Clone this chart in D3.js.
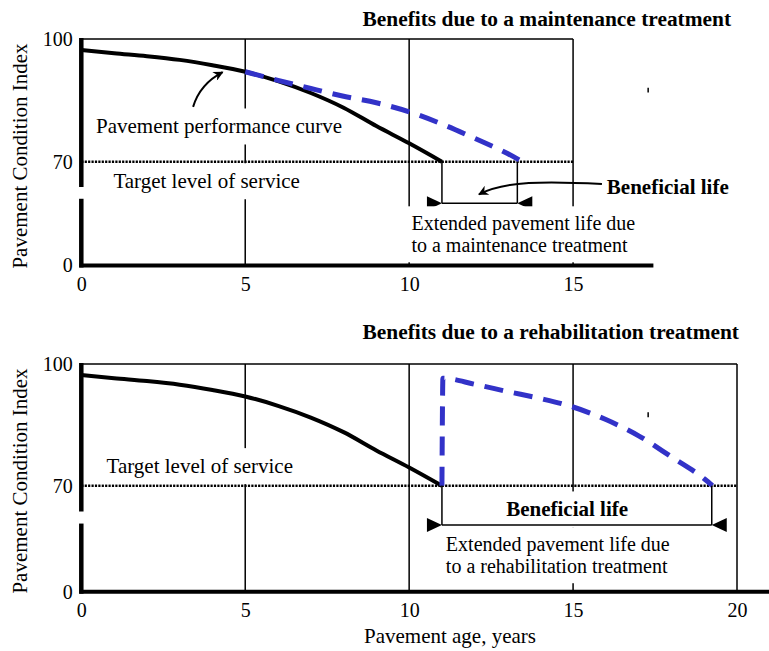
<!DOCTYPE html>
<html>
<head>
  <meta charset="utf-8"/>
  <title>Benefits of pavement treatments</title>
  <style type="text/css">
    body {
      padding:0;
      margin:0;
      background-color:white;
    }
    svg text {
      font-family: "Liberation Serif", "Times New Roman", serif;
      fill: black;
    }
  </style>
  <script src="https://cdn.jsdelivr.net/npm/d3@7/dist/d3.min.js" charset="utf-8"></script>
</head>

<body>
<script type="text/javascript">

  // DATA
  // pavement performance curve, no treatment
  var baseAge = [0, 1, 2, 3, 4, 5, 6, 7, 8, 9, 10, 11];
  var basePci = [97.3, 96.5, 95.8, 94.9, 93.6, 92.0, 89.7, 86.8, 83.2, 78.7, 74.5, 70];

  // curve after a maintenance treatment at year 5
  var maintAge = [5, 6, 7, 8, 9, 10, 11, 12, 13, 13.45];
  var maintPci = [92.0, 89.9, 87.9, 86.0, 84.4, 82.2, 79.2, 75.7, 72.0, 70];

  // curve after a rehabilitation treatment at year 11
  var rehabAge = [11, 11.03, 12, 13, 14, 15, 16, 17, 18, 19, 19.25];
  var rehabPci = [70, 96.5, 95.0, 93.2, 91.5, 89.4, 86.3, 82.3, 77.1, 71.7, 70];

  var targetPci = 70;
  var maintLife = [11, 13.3];   // beneficial life, maintenance
  var rehabLife = [11, 19.23];  // beneficial life, rehabilitation

  var pciTicks = [0, 70, 100];
  var topAgeTicks = [0, 5, 10, 15];
  var bottomAgeTicks = [0, 5, 10, 15, 20];

  var w = 769, h = 651;
  var blue = "#3232c8";

  var svg = d3.select("body").append("svg")
              .attr("width", w)
              .attr("height", h);

  var defs = svg.append("defs");
  defs.append("marker")
      .attr("id", "arrow")
      .attr("viewBox", "0 0 10 10")
      .attr("refX", 9)
      .attr("refY", 5)
      .attr("markerUnits", "userSpaceOnUse")
      .attr("markerWidth", 13)
      .attr("markerHeight", 10)
      .attr("orient", "auto")
    .append("path")
      .attr("d", "M0,0 L10,5 L0,10 L3,5 z")
      .style("fill", "black");

  // shared age scale
  var x = d3.scaleLinear().domain([0, 20]).range([81.3, 737]);

  function zip(a, b) { return a.map(function(d, i) { return [d, b[i]]; }); }

  // one panel: y axis is broken between 0 and 70, so the scale is piecewise
  function drawPanel(cfg) {
    var y = d3.scaleLinear().domain([0, 70, 100]).range(cfg.yRange);
    var g = svg.append("g").attr("id", cfg.id);

    var gridLayer = g.append("g"),
        maskLayer = g.append("g"),
        curveLayer = g.append("g"),
        annoLayer = g.append("g"),
        textLayer = g.append("g"),
        axisLayer = g.append("g");

    // vertical grid lines and frame
    gridLayer.selectAll("line.grid")
      .data(cfg.grid)
      .enter().append("line")
        .attr("class", "grid")
        .attr("x1", function(d) { return x(d); })
        .attr("x2", function(d) { return x(d); })
        .attr("y1", y(100))
        .attr("y2", y(0))
        .style("stroke", "black")
        .style("stroke-width", 1.5);

    gridLayer.append("line")
        .attr("x1", x(0)).attr("x2", x(cfg.grid[cfg.grid.length - 1]))
        .attr("y1", y(100)).attr("y2", y(100))
        .style("stroke", "black")
        .style("stroke-width", 1.5);

    // target level of service
    gridLayer.append("line")
        .attr("x1", x(0)).attr("x2", x(cfg.grid[cfg.grid.length - 1]))
        .attr("y1", y(targetPci)).attr("y2", y(targetPci))
        .style("stroke", "black")
        .style("stroke-width", 2.6)
        .style("stroke-dasharray", "2.2,1.2");

    // small stray tick
    gridLayer.append("line")
        .attr("x1", x(17.29)).attr("x2", x(17.29))
        .attr("y1", y(88.1)).attr("y2", y(86.9))
        .style("stroke", "black")
        .style("stroke-width", 1.5);

    // curves
    var line = d3.line()
                 .x(function(d) { return x(d[0]); })
                 .y(function(d) { return y(d[1]); })
                 .curve(d3.curveMonotoneX);

    curveLayer.append("path")
        .attr("d", line(zip(baseAge, basePci)))
        .style("fill", "none")
        .style("stroke", "black")
        .style("stroke-width", 4);

    curveLayer.append("path")
        .attr("d", line(zip(cfg.treatAge, cfg.treatPci)))
        .style("fill", "none")
        .style("stroke", blue)
        .style("stroke-width", 5)
        .style("stroke-dasharray", "19,11");

    // beneficial life bracket
    var bl = cfg.bracketUnder ? gridLayer : annoLayer;
    var by = y(cfg.bracketPci);
    cfg.life.forEach(function(a) {
      bl.append("line")
        .attr("x1", x(a)).attr("x2", x(a))
        .attr("y1", y(targetPci)).attr("y2", by)
        .style("stroke", "black")
        .style("stroke-width", 1.5);
    });
    bl.append("line")
      .attr("x1", x(cfg.life[0])).attr("x2", x(cfg.life[1]))
      .attr("y1", by).attr("y2", by)
      .style("stroke", "black")
      .style("stroke-width", 1.5);
    var x0 = x(cfg.life[0]), x1 = x(cfg.life[1]);
    bl.append("path")
      .attr("d", "M" + x0 + "," + by + " L" + (x0 - 15) + "," + (by - 7) + " L" + (x0 - 15) + "," + (by + 7) + " Z")
      .style("fill", "black");
    bl.append("path")
      .attr("d", "M" + x1 + "," + by + " L" + (x1 + 15) + "," + (by - 7) + " L" + (x1 + 15) + "," + (by + 7) + " Z")
      .style("fill", "black");

    // curved arrows
    (cfg.arrows || []).forEach(function(p) {
      var pts = p.map(function(d) { return [x(d[0]), y(d[1])]; });
      var d = "M" + pts[0] + (pts.length == 3 ? " Q" + pts[1] + " " + pts[2]
                                             : " C" + pts[1] + " " + pts[2] + " " + pts[3]);
      annoLayer.append("path")
        .attr("d", d)
        .style("fill", "none")
        .style("stroke", "black")
        .style("stroke-width", 2)
        .attr("marker-end", "url(#arrow)");
    });

    // labels, some with a white box that hides the grid
    // (each line is its own text element)
    cfg.labels.forEach(function(l) {
      var size = l.lines.length > 1 ? 20 : 21;
      var lh = 22;
      var boxes = [];
      l.lines.forEach(function(s, i) {
        var t = textLayer.append("text")
          .attr("x", x(l.age))
          .attr("y", y(l.pci) - (l.lines.length > 1 ? 0.5 : 0) + i * lh)
          .attr("text-anchor", l.anchor || "start")
          .style("font-size", size + "px")
          .style("font-weight", l.bold ? "bold" : "normal")
          .text(s);
        boxes.push(t.node().getBBox());
      });
      if (l.mask) {
        var bx0 = d3.min(boxes, function(b) { return b.x; }),
            by0 = d3.min(boxes, function(b) { return b.y; }),
            bx1 = d3.max(boxes, function(b) { return b.x + b.width; }),
            by1 = d3.max(boxes, function(b) { return b.y + b.height; });
        maskLayer.append("rect")
          .attr("x", bx0 - 7).attr("y", by0 - 6)
          .attr("width", bx1 - bx0 + 14).attr("height", by1 - by0 + 12)
          .style("fill", "white");
      }
    });

    // title
    svg.append("text")
       .attr("x", 362.5)
       .attr("y", cfg.titleY)
       .style("font-size", "21.4px")
       .style("font-weight", "bold")
       .text(cfg.title);

    // axes
    axisLayer.append("line")
      .attr("x1", x(0) - 2).attr("x2", x(cfg.axisEnd))
      .attr("y1", y(0)).attr("y2", y(0))
      .style("stroke", "black")
      .style("stroke-width", 4);
    [[53, 100], [0, 45]].forEach(function(s) {
      axisLayer.append("line")
        .attr("x1", x(0)).attr("x2", x(0))
        .attr("y1", y(s[0]) + (s[0] == 0 ? 2 : 0)).attr("y2", y(s[1]) - (s[1] == 100 ? 1 : 0))
        .style("stroke", "black")
        .style("stroke-width", 4.5);
    });

    var xAxis = axisLayer.append("g")
      .attr("transform", "translate(0," + y(0) + ")")
      .call(d3.axisBottom(x).tickValues(cfg.ticks).tickSize(0).tickPadding(11).tickFormat(d3.format("d")));
    var yAxis = axisLayer.append("g")
      .attr("transform", "translate(" + x(0) + ",0)")
      .call(d3.axisLeft(y).tickValues(pciTicks).tickSize(0).tickPadding(8.5).tickFormat(d3.format("d")));
    [xAxis, yAxis].forEach(function(a) {
      a.attr("font-family", null).attr("font-size", null);
      a.select(".domain").remove();
      a.selectAll("text").style("font-size", "20px").style("fill", "black");
    });

    axisLayer.append("text")
      .attr("transform", "translate(27," + cfg.yTitleY + ") rotate(-90)")
      .attr("text-anchor", "middle")
      .style("font-size", "21px")
      .text("Pavement Condition Index");
  }

  drawPanel({
    id: "maintenance",
    yRange: [265.5, 161.7, 39],
    grid: [5, 10, 15],
    ticks: topAgeTicks,
    axisEnd: 17.45,
    treatAge: maintAge,
    treatPci: maintPci,
    life: maintLife,
    bracketPci: 42.0,
    bracketUnder: true,
    title: "Benefits due to a maintenance treatment",
    titleY: 25.7,
    yTitleY: 156,
    arrows: [
      [[3.41, 83.4], [3.62, 89.0], [4.31, 91.9]],
      [[15.88, 55.0], [14.14, 57.0], [12.92, 57.0], [12.13, 48.0]]
    ],
    labels: [
      {age: 0.45, pci: 76.9, lines: ["Pavement performance curve"], mask: true},
      {age: 0.98, pci: 52.1, lines: ["Target level of service"], mask: true},
      {age: 16.03, pci: 48.2, lines: ["Beneficial life"], bold: true},
      {age: 10.07, pci: 23.4, lines: ["Extended pavement life due", "to a maintenance treatment"], mask: true}
    ]
  });

  drawPanel({
    id: "rehabilitation",
    yRange: [591.7, 485.7, 364],
    grid: [5, 10, 15, 20],
    ticks: bottomAgeTicks,
    axisEnd: 21,
    treatAge: rehabAge,
    treatPci: rehabPci,
    life: rehabLife,
    bracketPci: 44.0,
    bracketUnder: false,
    title: "Benefits due to a rehabilitation treatment",
    titleY: 339.3,
    yTitleY: 481,
    labels: [
      {age: 0.77, pci: 73.1, lines: ["Target level of service"], mask: true},
      {age: 14.82, pci: 49.7, lines: ["Beneficial life"], bold: true, anchor: "middle", mask: true},
      {age: 11.12, pci: 26.4, lines: ["Extended pavement life due", "to a rehabilitation treatment"], mask: true}
    ]
  });

  svg.append("text")
     .attr("x", 450)
     .attr("y", 643)
     .attr("text-anchor", "middle")
     .style("font-size", "21px")
     .text("Pavement age, years");

</script>
</body>
</html>
